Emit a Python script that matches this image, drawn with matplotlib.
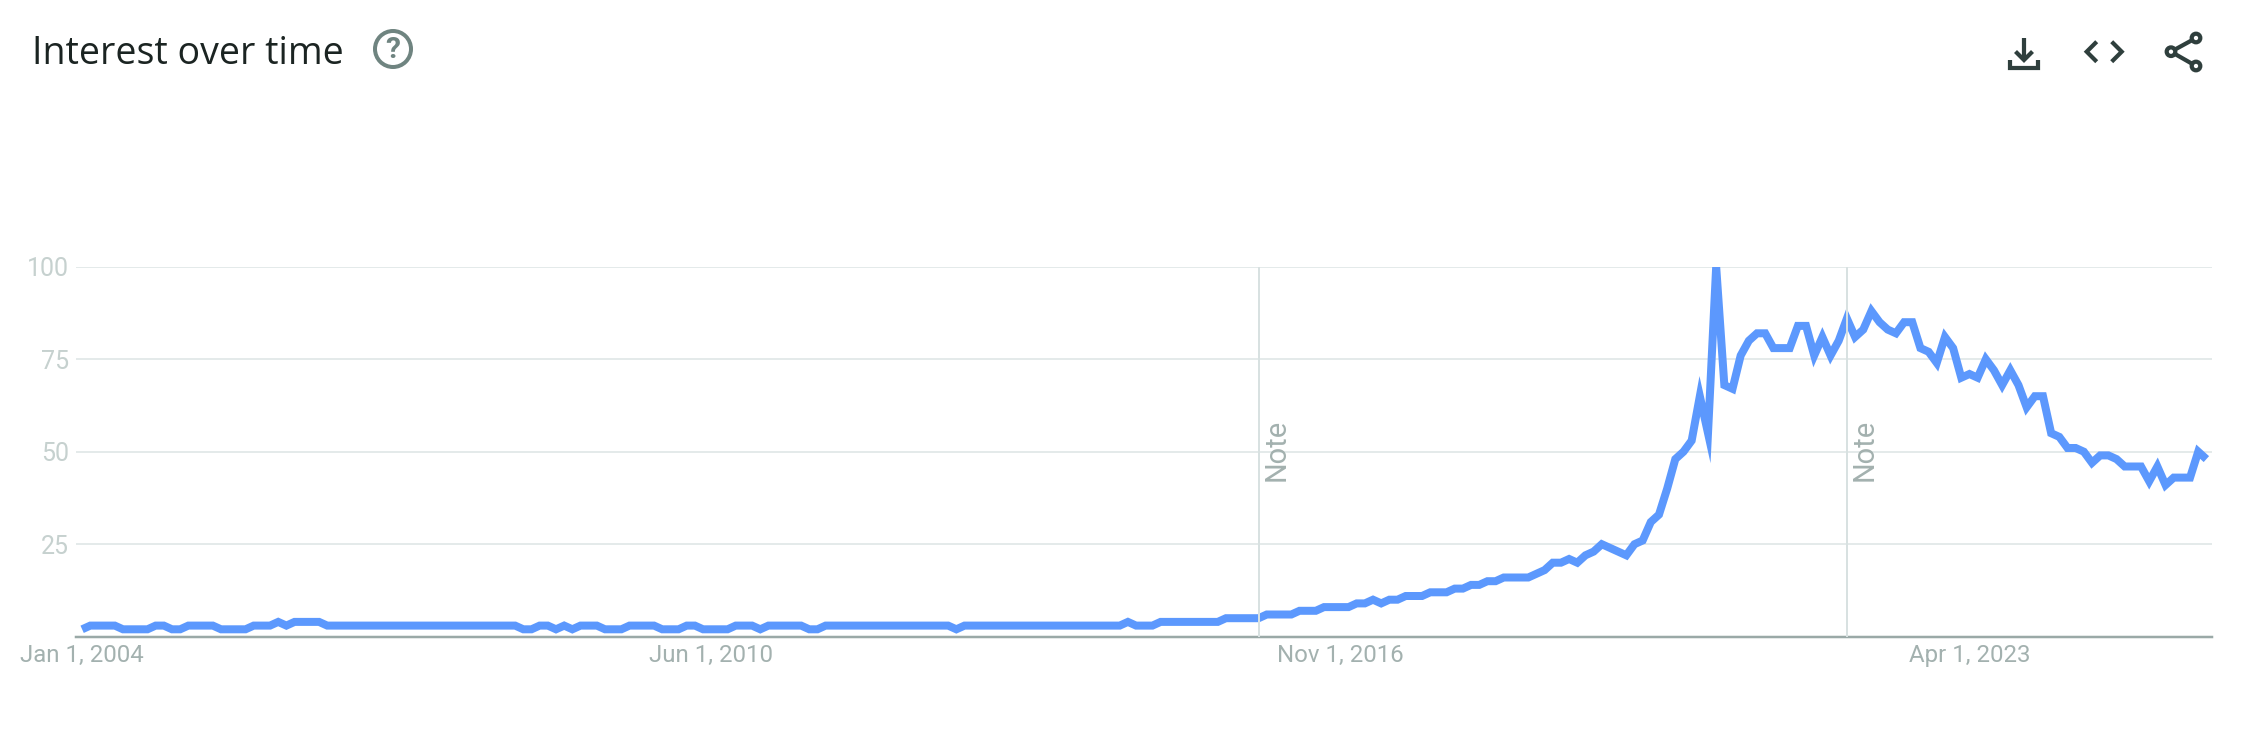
import matplotlib
matplotlib.use("Agg")
import matplotlib.pyplot as plt
import numpy as np
from matplotlib.patches import Circle

# monthly values, Jan 2004 onwards
values = [
    2, 3, 3, 3, 3, 2, 2, 2, 2, 3,
    3, 2, 2, 3, 3, 3, 3, 2, 2, 2,
    2, 3, 3, 3, 4, 3, 4, 4, 4, 4,
    3, 3, 3, 3, 3, 3, 3, 3, 3, 3,
    3, 3, 3, 3, 3, 3, 3, 3, 3, 3,
    3, 3, 3, 3, 2, 2, 3, 3, 2, 3,
    2, 3, 3, 3, 2, 2, 2, 3, 3, 3,
    3, 2, 2, 2, 3, 3, 2, 2, 2, 2,
    3, 3, 3, 2, 3, 3, 3, 3, 3, 2,
    2, 3, 3, 3, 3, 3, 3, 3, 3, 3,
    3, 3, 3, 3, 3, 3, 3, 2, 3, 3,
    3, 3, 3, 3, 3, 3, 3, 3, 3, 3,
    3, 3, 3, 3, 3, 3, 3, 3, 4, 3,
    3, 3, 4, 4, 4, 4, 4, 4, 4, 4,
    5, 5, 5, 5, 5, 6, 6, 6, 6, 7,
    7, 7, 8, 8, 8, 8, 9, 9, 10, 9,
    10, 10, 11, 11, 11, 12, 12, 12, 13, 13,
    14, 14, 15, 15, 16, 16, 16, 16, 17, 18,
    20, 20, 21, 20, 22, 23, 25, 24, 23, 22,
    25, 26, 31, 33, 40, 48, 50, 53, 65, 55,
    100, 68, 67, 76, 80, 82, 82, 78, 78, 78,
    84, 84, 76, 81, 76, 80, 86, 81, 83, 88,
    85, 83, 82, 85, 85, 78, 77, 74, 81, 78,
    70, 71, 70, 75, 72, 68, 72, 68, 62, 65,
    65, 55, 54, 51, 51, 50, 47, 49, 49, 48,
    46, 46, 46, 42, 46, 41, 43, 43, 43, 50, 48,
]
x_tick_months = [0, 77, 154, 231]
x_tick_labels = ["Jan 1, 2004", "Jun 1, 2010", "Nov 1, 2016", "Apr 1, 2023"]
y_ticks = [25, 50, 75, 100]
note_months = [144, 216]

W, H = 2258, 740
PX = 72 / 100  # one pixel in points

BLUE = "#5c98fd"
GRID = "#e4eaea"
AXIS = "#9aa9a7"
NOTE = "#d8e1e1"
LABEL = "#a3b1af"
YLABEL = "#c6d1cf"
ICON = "#2f3f3d"

fig = plt.figure(figsize=(W / 100, H / 100), dpi=100)
ax = fig.add_axes([76 / W, 1 - 636.7 / H, (2211.7 - 76) / W, 370 / H])

months = np.arange(len(values))
ax.plot(months, values, color=BLUE, lw=8 * PX, solid_joinstyle="miter", solid_capstyle="butt", zorder=3)

ax.set_xlim(-0.75, 260.65)
ax.set_ylim(0, 100)
ax.set_yticks(y_ticks)
ax.set_xticks(x_tick_months)
ax.set_xticklabels(x_tick_labels, family="Roboto", fontsize=24 * PX, color=LABEL)
ax.set_yticklabels([str(v) for v in y_ticks], family="Roboto", fontsize=25 * PX, color=YLABEL)
ax.tick_params(length=0)
ax.tick_params(axis="x", pad=5)
ax.tick_params(axis="y", pad=5)
ax.grid(axis="y", color=GRID, lw=2 * PX, zorder=1)
ax.grid(axis="x", visible=False)
ax.set_axisbelow(True)

for side in ["top", "left", "right"]:
    ax.spines[side].set_visible(False)
ax.spines["bottom"].set_color(AXIS)
ax.spines["bottom"].set_linewidth(2.5 * PX)

for m in note_months:
    ax.axvline(m, color=NOTE, lw=2 * PX, zorder=4)
    ax.annotate("Note", (m, 0), xycoords="data", xytext=(18 * PX, 156 * PX), textcoords="offset points",
                rotation=90, ha="center", va="bottom", family="Roboto", fontsize=29 * PX, color=LABEL)

# header and icons, in pixel coordinates
over = fig.add_axes([0, 0, 1, 1])
over.set_xlim(0, W)
over.set_ylim(H, 0)
over.axis("off")
over.patch.set_alpha(0)

over.text(32, 64.5, "Interest over time", family="Open Sans", fontsize=37.5 * PX, color="#1b2422", ha="left", va="baseline")

over.add_patch(Circle((393, 49), 18, fill=False, ec="#6f8480", lw=4 * PX))
over.text(393, 50, "?", family="Roboto", weight="bold", fontsize=30 * PX, color="#6f8480", ha="center", va="center")

icon_lw = 4.2 * PX
def stroke(xs, ys):
    over.plot(xs, ys, color=ICON, lw=icon_lw, solid_capstyle="butt", solid_joinstyle="miter")

# download
stroke([2024, 2024], [38, 59])
stroke([2015.5, 2024, 2032.5], [51.5, 60, 51.5])
stroke([2010, 2010, 2038, 2038], [60, 68, 68, 60])
# embed
stroke([2096.7, 2086.7, 2096.7], [41.7, 51.7, 61.7])
stroke([2111.7, 2121.7, 2111.7], [41.7, 51.7, 61.7])
# share
stroke([2171, 2196], [51.7, 38])
stroke([2171, 2196], [51.7, 66])
for c in [(2171, 51.7), (2196, 38), (2196, 66)]:
    over.add_patch(Circle(c, 4.3, fc="white", ec=ICON, lw=icon_lw, zorder=5))

fig.savefig("out.png", dpi=100)
